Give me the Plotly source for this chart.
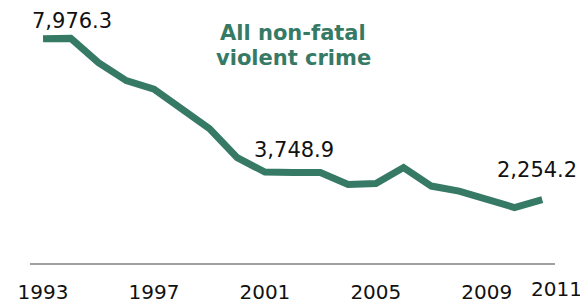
import plotly.graph_objects as go

years = list(range(1993, 2012))
values = [7976.3, 7990, 7126, 6486, 6184, 5491, 4780, 3748.9, 3234, 3220, 3216,
          2790, 2825, 3394, 2737, 2559, 2275, 1972, 2254.2]
tick_years = [1993, 1997, 2001, 2005, 2009]
end_tick = 2011
label_years = [1993, 2000, 2011]
title_lines = ["All non-fatal", "violent crime"]

green = "#367a65"
font_family = "Verdana, DejaVu Sans, sans-serif"

fig = go.Figure()
fig.add_trace(go.Scatter(x=years, y=values, mode="lines",
                         line=dict(color=green, width=7),
                         hoverinfo="skip", showlegend=False))

# value labels (pixel offsets from their points)
shifts = {1993: (29, 18), 2000: (57, 8), 2011: (-5, 30)}
for yr in label_years:
    v = values[years.index(yr)]
    dx, dy = shifts[yr]
    fig.add_annotation(x=yr, y=v, text=f"{v:,.1f}", showarrow=False,
                       xanchor="center", yanchor="middle", xshift=dx, yshift=dy,
                       font=dict(family=font_family, size=21, color="#111111"))

# last tick label placed slightly raised
fig.add_annotation(x=end_tick, y=0, text=str(end_tick), showarrow=False,
                   xanchor="center", yanchor="middle", xshift=14, yshift=-26,
                   font=dict(family=font_family, size=20, color="#111111"))

for line, py in zip(title_lines, [0.909, 0.810]):
    fig.add_annotation(x=0.501, y=py, xref="paper", yref="paper", text=f"<b>{line}</b>",
                       showarrow=False, xanchor="center", yanchor="middle",
                       font=dict(family=font_family, size=21, color=green))

fig.update_xaxes(range=[1992.53, 2011.46], tickvals=tick_years, automargin=False,
                 showgrid=False, zeroline=False, showline=True, linecolor="#a0a0a0",
                 linewidth=2, ticks="outside", ticklen=10, tickcolor="rgba(0,0,0,0)",
                 tickfont=dict(family=font_family, size=20, color="#111111"))
fig.update_yaxes(range=[0, 9000], visible=False, showgrid=False, zeroline=False,
                 automargin=False)

fig.update_layout(width=588, height=303, margin=dict(l=22, r=41, t=2, b=48, autoexpand=False),
                  plot_bgcolor="white", paper_bgcolor="white")

fig.write_html("out.html")
